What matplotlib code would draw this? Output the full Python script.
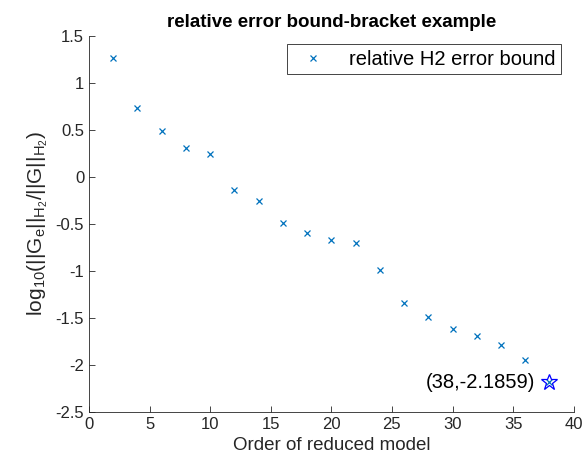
import matplotlib.pyplot as plt

plt.rcParams['font.family'] = ['Liberation Sans', 'DejaVu Sans']
plt.rcParams['mathtext.default'] = 'regular'

orders = [2, 4, 6, 8, 10, 12, 14, 16, 18, 20, 22, 24, 26, 28, 30, 32, 34, 36, 38]
log_err = [1.26, 0.73, 0.49, 0.305, 0.245, -0.14, -0.255, -0.497, -0.60, -0.67,
           -0.70, -0.993, -1.345, -1.49, -1.62, -1.69, -1.79, -1.95, -2.1859]
best_order = 38
best_val = -2.1859
xticks = [0, 5, 10, 15, 20, 25, 30, 35, 40]
yticks = [-2.5, -2, -1.5, -1, -0.5, 0, 0.5, 1, 1.5]

mblue = (0, 0.447, 0.741)
axcol = (0.15, 0.15, 0.15)

fig = plt.figure(figsize=(5.83, 4.73), dpi=100)
ax = fig.add_axes([0.1527, 0.1296, 0.8313, 0.7949])

ax.plot(orders, log_err, 'x', color=mblue, markersize=5, markeredgewidth=0.9,
        linestyle='none', label='relative H2 error bound')
ax.plot(best_order, best_val, '*', markersize=12, markerfacecolor='none',
        markeredgecolor='blue', markeredgewidth=0.9)
ax.text(best_order - 1.2, best_val, '(%d,%.4f)' % (best_order, best_val),
        ha='right', va='center', fontsize=14.5)

ax.set_xlim(0, 40)
ax.set_ylim(-2.5, 1.5)
ax.set_xticks(xticks)
ax.set_yticks(yticks)
ax.set_yticklabels(['%g' % t for t in yticks])
ax.tick_params(direction='in', length=4, width=0.6, colors=axcol, labelsize=12,
               labelcolor=(0.15, 0.15, 0.15))
for s in ['top', 'right']:
    ax.spines[s].set_visible(False)
for s in ['left', 'bottom']:
    ax.spines[s].set_color(axcol)
    ax.spines[s].set_linewidth(0.6)

ax.set_xlabel('Order of reduced model', fontsize=13.5, color=axcol)
ax.set_ylabel(r'$log_{10}(||G_e||_{H_2}/||G||_{H_2})$', fontsize=15, color=axcol)
ax.set_title('relative error bound-bracket example', fontsize=13.5, fontweight='bold')

leg = ax.legend(loc='upper right', fontsize=14.5, fancybox=False, framealpha=1,
                edgecolor=axcol, borderpad=0.28, handletextpad=0.8, handlelength=2.0,
                borderaxespad=0, bbox_to_anchor=(0.974, 0.978))
leg.get_frame().set_linewidth(0.6)

fig.savefig('out.png', dpi=100)
